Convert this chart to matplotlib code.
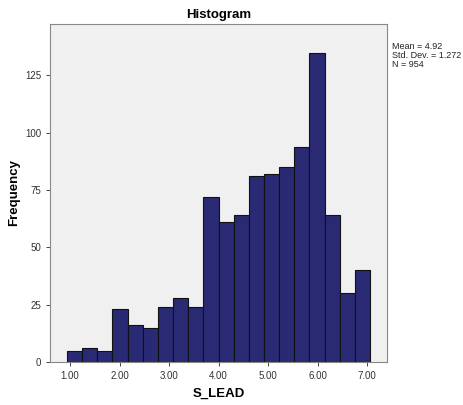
import matplotlib
matplotlib.use("Agg")
import matplotlib.pyplot as plt
import numpy as np

# bin edges and counts (20 bins, N = 954)
bin_start = 0.94
bin_width = 0.306
counts = [5, 6, 5, 23, 16, 15, 24, 28, 24, 72,
          61, 64, 81, 82, 85, 94, 135, 64, 30, 40]
xticks = [1.0, 2.0, 3.0, 4.0, 5.0, 6.0, 7.0]
yticks = [0, 25, 50, 75, 100, 125]
stats_lines = ["Mean = 4.92", "Std. Dev. = 1.272", "N = 954"]

plt.rcParams["font.family"] = ["Liberation Sans", "DejaVu Sans"]

edges = bin_start + bin_width * np.arange(len(counts) + 1)

fig = plt.figure(figsize=(4.63, 4.05), dpi=100)
ax = fig.add_axes([0.108, 0.106, 0.728, 0.835])
ax.set_facecolor("#f0f0f0")
ax.bar(edges[:-1], counts, width=bin_width, align="edge",
       color="#292a73", edgecolor="#111111", linewidth=0.8, zorder=2)

ax.set_xlim(0.596, 7.404)
ax.set_ylim(0, 147.5)
ax.set_xticks(xticks)
ax.set_xticklabels([f"{t:.2f}" for t in xticks])
ax.set_yticks(yticks)
ax.tick_params(labelsize=7, colors="#444444", length=3, width=0.7, labelcolor="#333333")
for s in ax.spines.values():
    s.set_color("#888888")
    s.set_linewidth(0.8)

ax.set_title("Histogram", fontsize=9.5, fontweight="bold", pad=4)
ax.set_xlabel("S_LEAD", fontsize=9.5, fontweight="bold")
ax.set_ylabel("Frequency", fontsize=9.5, fontweight="bold")
ax.xaxis.set_label_coords(0.5, -0.075)
ax.yaxis.set_label_coords(-0.09, 0.5)

fig.text(392 / 463, 1 - 42 / 405, "\n".join(stats_lines), fontsize=6.5,
         va="top", ha="left", color="#222222", linespacing=1.0)

fig.savefig("out.png", dpi=100)
